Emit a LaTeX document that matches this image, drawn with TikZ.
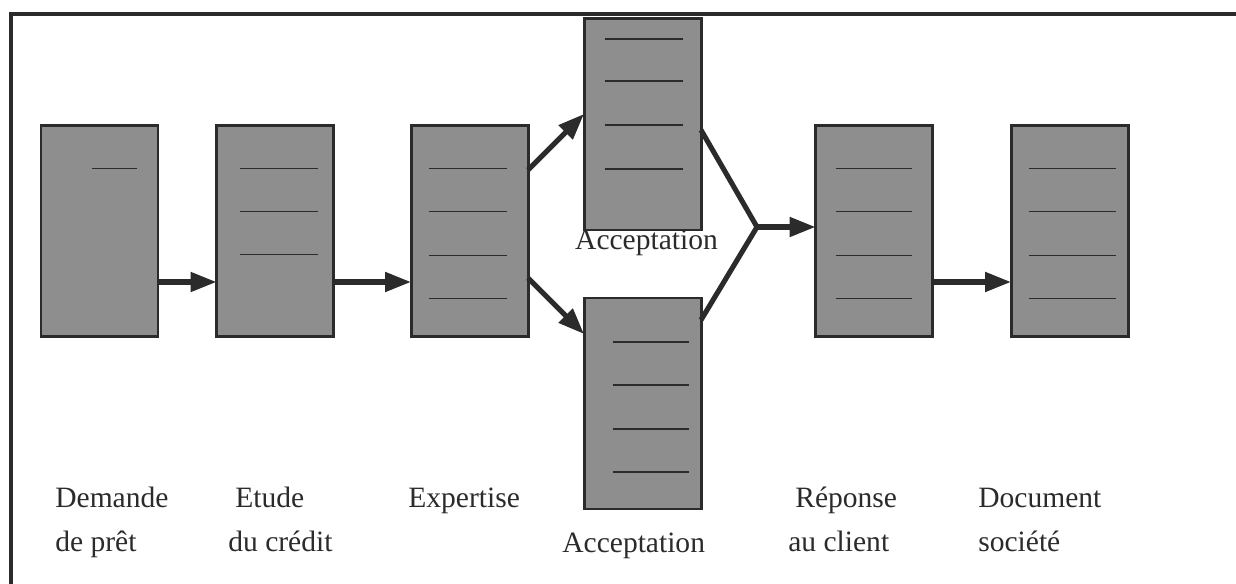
\documentclass[tikz,border=0pt]{standalone}
\usepackage{fontspec}
\setmainfont{Liberation Serif}
\usetikzlibrary{arrows.meta}
\definecolor{inkdark}{HTML}{2B2B2B}
\definecolor{docfill}{HTML}{8E8E8E}
\begin{document}
\begin{tikzpicture}[
		docbox/.style={draw=inkdark, fill=docfill, line width=1.7pt, rectangle, minimum width=2.34cm, minimum height=4.22cm, inner sep=0pt, outer sep=0pt},
		rule/.style={draw=inkdark, line width=0.9pt},
		flow/.style={draw=inkdark, line width=2.9pt, -{Triangle[length=0.52cm, width=0.38cm]}},
		link/.style={draw=inkdark, line width=2.9pt},
		lab/.style={font=\fontsize{16.8}{20}\selectfont, text=inkdark, inner sep=0pt}
	]
	\useasboundingbox (0,0) rectangle (24.72,11.66);

	% Frame (top and left edge only)
	\draw[draw=inkdark, line width=2.4pt] (24.9,11.38) -- (0.22,11.38) -- (0.22,-0.2);

	% Demande de pret
	\node[docbox] (dem) at (1.99,7.04) {};
	\draw[rule] ([xshift=1.02cm, yshift=-0.86cm]dem.north west) -- ++(0.9,0);

	% Etude du credit
	\node[docbox] (etu) at (5.50,7.04) {};
	\foreach \d in {0.86,1.72,2.58}
		\draw[rule] ([xshift=0.46cm, yshift=-\d cm]etu.north west) -- ++(1.56,0);

	% Expertise
	\node[docbox] (exp) at (9.39,7.04) {};
	\foreach \d in {0.86,1.72,2.6,3.46}
		\draw[rule] ([xshift=0.36cm, yshift=-\d cm]exp.north west) -- ++(1.56,0);

	% Acceptation (upper)
	\node[docbox] (acc1) at (12.85,9.17) {};
	\foreach \d in {0.4,1.24,2.12,3.0}
		\draw[rule] ([xshift=0.42cm, yshift=-\d cm]acc1.north west) -- ++(1.56,0);

	% Acceptation (lower)
	\node[docbox] (acc2) at (12.85,3.59) {};
	\foreach \d in {0.88,1.74,2.62,3.48}
		\draw[rule] ([xshift=0.58cm, yshift=-\d cm]acc2.north west) -- ++(1.52,0);

	% Reponse au client
	\node[docbox] (rep) at (17.48,7.04) {};
	\foreach \d in {0.86,1.72,2.6,3.46}
		\draw[rule] ([xshift=0.4cm, yshift=-\d cm]rep.north west) -- ++(1.52,0);

	% Document societe
	\node[docbox] (doc) at (21.39,7.04) {};
	\foreach \d in {0.86,1.72,2.6,3.46}
		\draw[rule] ([xshift=0.36cm, yshift=-\d cm]doc.north west) -- ++(1.74,0);

	% Flow between documents
	\draw[flow] ([yshift=-1.02cm]dem.east) -- ([yshift=-1.02cm]etu.west);
	\draw[flow] ([yshift=-1.02cm]etu.east) -- ([yshift=-1.02cm]exp.west);
	\draw[flow] ([yshift=1.22cm]exp.east) -- ([yshift=0.21cm]acc1.west);
	\draw[flow] ([yshift=-0.94cm]exp.east) -- ([yshift=1.39cm]acc2.west);

	% Both acceptations meet, then go to the client
	\coordinate (join) at (15.14,7.12);
	\draw[link] ([yshift=-0.11cm]acc1.east) -- (join) -- ([yshift=1.67cm]acc2.east);
	\draw[flow] (join) -- (join -| rep.west);
	\draw[flow] ([yshift=-1.02cm]rep.east) -- ([yshift=-1.02cm]doc.west);

	% Labels
	\node[lab, anchor=base] (acc1l) at (12.93,6.66) {Acceptation};
	\node[lab, anchor=base west] (deml1) at (1.10,1.52) {Demande};
	\node[lab, anchor=base west] (deml2) at (1.10,0.64) {de prêt};
	\node[lab, anchor=base west] (etul1) at (4.70,1.52) {Etude};
	\node[lab, anchor=base west] (etul2) at (4.56,0.64) {du crédit};
	\node[lab, anchor=base west] (expl1) at (8.16,1.52) {Expertise};
	\node[lab, anchor=base west] (acc2l) at (11.24,0.62) {Acceptation};
	\node[lab, anchor=base west] (repl1) at (15.90,1.52) {Réponse};
	\node[lab, anchor=base west] (repl2) at (15.76,0.64) {au client};
	\node[lab, anchor=base west] (docl1) at (19.56,1.52) {Document};
	\node[lab, anchor=base west] (docl2) at (19.56,0.64) {société};
\end{tikzpicture}
\end{document}
